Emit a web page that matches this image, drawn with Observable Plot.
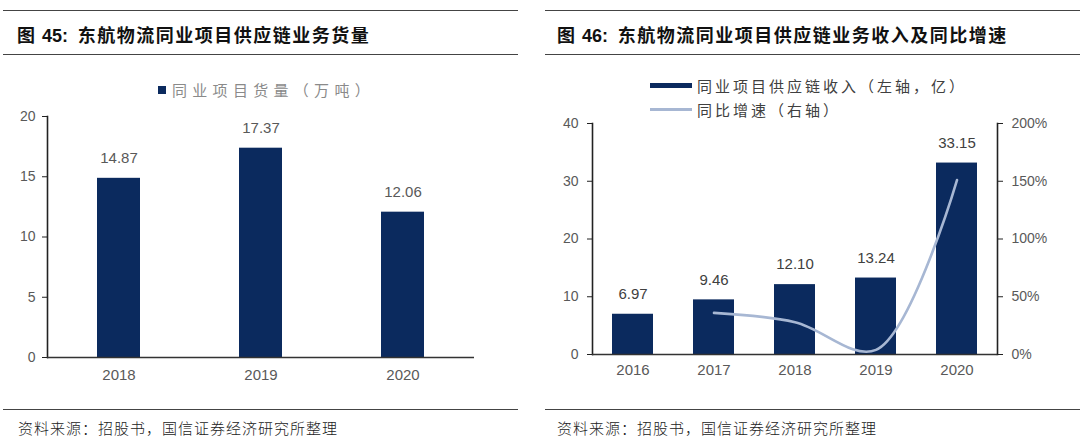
<!DOCTYPE html>
<html><head><meta charset="utf-8">
<script src="https://cdn.jsdelivr.net/npm/d3@7"></script>
<script src="https://cdn.jsdelivr.net/npm/@observablehq/plot@0.6"></script>
<style>
body{margin:0;background:#fff;}
#root{position:relative;width:1080px;height:443px;overflow:hidden;background:#fff;font-family:"Noto Sans CJK SC",sans-serif;}
.hl{position:absolute;height:0;border-top:1.5px solid #444;}
.title{position:absolute;top:22px;font-size:18px;font-weight:700;color:#111;letter-spacing:1.5px;white-space:nowrap;line-height:24px;}
.title b{font-family:"Liberation Sans",Arial,sans-serif;font-weight:700;letter-spacing:0;margin-right:4px;}
.foot{position:absolute;top:418px;font-size:15px;color:#222;white-space:nowrap;line-height:20px;font-weight:300;letter-spacing:1px;}
.plot{position:absolute;}
.leg{position:absolute;white-space:nowrap;font-size:15px;line-height:18px;}
</style></head>
<body>
<div id="root">
  <div class="hl" style="left:3px;width:515px;top:10px"></div>
  <div class="hl" style="left:545px;width:535px;top:10px"></div>
  <div class="hl" style="left:3px;width:515px;top:54px"></div>
  <div class="hl" style="left:545px;width:535px;top:54px"></div>
  <div class="hl" style="left:3px;width:515px;top:409px"></div>
  <div class="hl" style="left:545px;width:535px;top:409px"></div>
  <div class="title" style="left:17px">图 <b>45:</b> 东航物流同业项目供应链业务货量</div>
  <div class="title" style="left:557px">图 <b>46:</b> 东航物流同业项目供应链业务收入及同比增速</div>
  <div class="foot" style="left:18px">资料来源：招股书，国信证券经济研究所整理</div>
  <div class="foot" style="left:557px">资料来源：招股书，国信证券经济研究所整理</div>
  <div id="leg1" class="leg" style="left:158px;top:81px;color:#8a8a8a;letter-spacing:5.3px"></div>
  <div id="leg2" class="leg" style="left:650px;top:77px;color:#404040;letter-spacing:3px"></div>
  <div id="p1" class="plot" style="left:0;top:100px"></div>
  <div id="p2" class="plot" style="left:540px;top:100px"></div>
</div>
<script>
// ---- Data ----
const years1 = ["2018", "2019", "2020"];
const volume = [14.87, 17.37, 12.06];            // 同业项目货量（万吨）
const volumeTicks = [0, 5, 10, 15, 20];

const years2 = ["2016", "2017", "2018", "2019", "2020"];
const revenue = [6.97, 9.46, 12.10, 13.24, 33.15]; // 同业项目供应链收入（亿）
const growth = [null, 36, 28, 4, 151];             // 同比增速（%）
const revTicks = [0, 10, 20, 30, 40];
const growthTicks = [0, 50, 100, 150, 200];

const seriesNames = {
  vol: "同业项目货量（万吨）",
  rev: "同业项目供应链收入（左轴，亿）",
  gr: "同比增速（右轴）"
};

const BAR = "#0b2a5e";
const LINE = "#a7b7d3";
const TXT = "#595959";
const NUMFONT = "'Liberation Sans', Arial, sans-serif";

// legends
document.getElementById("leg1").innerHTML =
  `<span style="display:inline-block;width:8px;height:8px;background:${BAR};vertical-align:middle;margin-right:6px;position:relative;top:-2px"></span>${seriesNames.vol}`;
document.getElementById("leg2").innerHTML =
  `<div><span style="display:inline-block;width:42px;height:5px;background:${BAR};vertical-align:middle;margin-right:5px;position:relative;top:-2px"></span>${seriesNames.rev}</div>` +
  `<div style="margin-top:6px"><span style="display:inline-block;width:42px;height:3px;background:${LINE};vertical-align:middle;margin-right:5px;position:relative;top:-2px"></span>${seriesNames.gr}</div>`;

// ---- Chart 1 ----
const d1 = years1.map((y, i) => ({year: y, v: volume[i]}));
const p1 = Plot.plot({
  width: 520, height: 300,
  marginLeft: 47, marginRight: 46, marginTop: 16, marginBottom: 43,
  style: {fontFamily: NUMFONT, fontSize: "14px", color: TXT, background: "transparent"},
  x: {domain: years1, paddingInner: 0.7, paddingOuter: 0.35, label: null},
  y: {domain: [0, 20], label: null},
  marks: [
    Plot.barY(d1, {x: "year", y: "v", fill: BAR}),
    Plot.text(d1, {x: "year", y: "v", text: d => d.v.toFixed(2), dy: -20, fill: TXT, fontSize: 15, fontFamily: NUMFONT, style: "letter-spacing:1px"}),
    Plot.axisY({ticks: volumeTicks, tickSize: 5, tickPadding: 7, stroke: "#222", fill: TXT, label: null, fontSize: 14}),
    Plot.axisX({tickSize: 0, tickPadding: 12, fill: TXT, label: null, fontSize: 15}),
    Plot.frame({anchor: "left", stroke: "#222", strokeWidth: 1.6}),
    Plot.ruleY([0], {stroke: "#333", strokeWidth: 1.6})
  ]
});
document.getElementById("p1").appendChild(p1);

// ---- Chart 2 (dual axis: growth mapped onto left scale, 200% -> 40) ----
const d2 = years2.map((y, i) => ({year: y, v: revenue[i], g: growth[i]}));
const gScale = 40 / 200;
const d2g = d2.filter(d => d.g != null);
const p2 = Plot.plot({
  width: 540, height: 300,
  marginLeft: 52, marginRight: 83, marginTop: 23, marginBottom: 46,
  style: {fontFamily: NUMFONT, fontSize: "14px", color: TXT, background: "transparent"},
  x: {domain: years2, paddingInner: 0.5, paddingOuter: 0.25, label: null},
  y: {domain: [0, 40], label: null},
  marks: [
    Plot.barY(d2, {x: "year", y: "v", fill: BAR}),
    Plot.line(d2g, {x: "year", y: d => d.g * gScale, stroke: LINE, strokeWidth: 2.6, curve: "catmull-rom"}),
    Plot.text(d2, {x: "year", y: "v", text: d => d.v.toFixed(2), dy: -20, fill: "#404040", fontSize: 15, fontFamily: NUMFONT, style: "letter-spacing:1px"}),
    Plot.axisY({anchor: "left", ticks: revTicks, tickSize: 5, tickPadding: 9, stroke: "#222", fill: TXT, label: null, fontSize: 14}),
    Plot.axisY({anchor: "right", ticks: growthTicks.map(t => t * gScale), tickFormat: d => Math.round(d / gScale) + "%", tickSize: 5, tickPadding: 9, stroke: "#222", fill: TXT, label: null, fontSize: 14}),
    Plot.axisX({tickSize: 0, tickPadding: 10, fill: TXT, label: null, fontSize: 15}),
    Plot.frame({anchor: "left", stroke: "#222", strokeWidth: 1.6}),
    Plot.frame({anchor: "right", stroke: "#222", strokeWidth: 1.6}),
    Plot.ruleY([0], {stroke: "#333", strokeWidth: 1.6})
  ]
});
document.getElementById("p2").appendChild(p2);
</script>
</body></html>
